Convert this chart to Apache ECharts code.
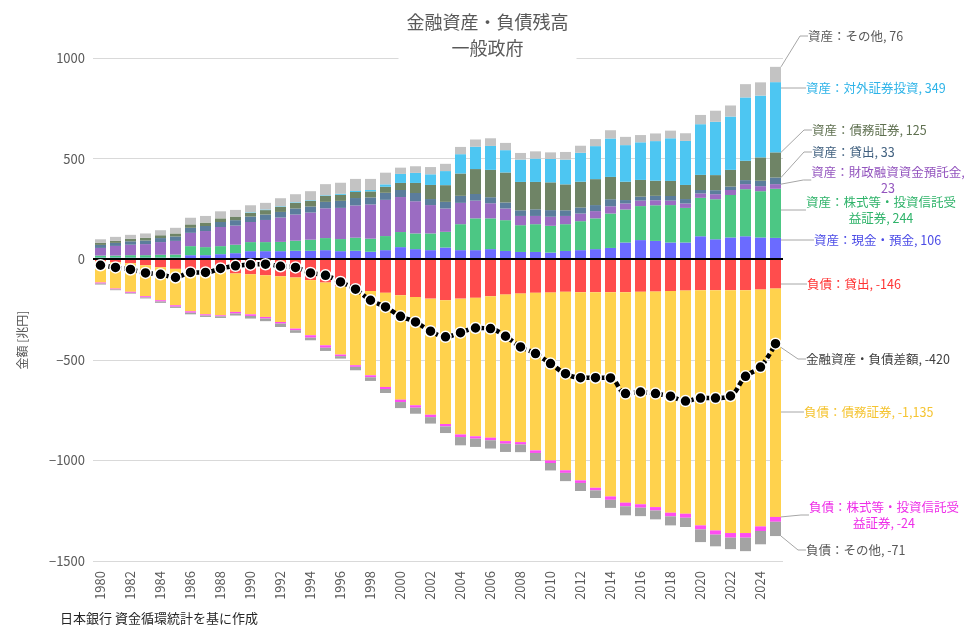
<!DOCTYPE html>
<html lang="ja">
<head>
<meta charset="utf-8">
<title>金融資産・負債残高 一般政府</title>
<script src="https://cdn.jsdelivr.net/npm/echarts@6/dist/echarts.min.js"></script>
<style>
  html, body { margin: 0; padding: 0; background: #fff; }
  #main { width: 975px; height: 637px; }
</style>
</head>
<body>
<div id="main"></div>
<script>
  const years = ['1980', '1981', '1982', '1983', '1984', '1985', '1986', '1987', '1988', '1989',
    '1990', '1991', '1992', '1993', '1994', '1995', '1996', '1997', '1998', '1999',
    '2000', '2001', '2002', '2003', '2004', '2005', '2006', '2007', '2008', '2009',
    '2010', '2011', '2012', '2013', '2014', '2015', '2016', '2017', '2018', '2019',
    '2020', '2021', '2022', '2023', '2024', '2025']

  // 資産 (兆円)
  const assetCash = [8, 8, 8, 8, 8, 8, 20, 20, 25, 30, 40, 40, 40, 42, 42, 45, 40, 42, 37, 45,
    60, 50, 45, 58, 45, 45, 50, 41, 36, 36, 33, 41, 45, 50, 56, 83, 95, 91, 83, 83,
    114, 99, 108, 114, 108, 106]
  const assetEquity = [10, 10, 12, 12, 14, 15, 45, 40, 40, 42, 45, 45, 46, 50, 55, 60, 60, 65, 65, 70,
    75, 78, 83, 78, 129, 158, 153, 153, 133, 138, 133, 133, 144, 153, 171, 164, 169, 177, 186, 172,
    191, 199, 211, 234, 230, 244]
  const assetFilp = [38, 48, 52, 55, 63, 68, 66, 80, 95, 95, 100, 110, 121, 130, 135, 148, 155, 160, 170, 180,
    174, 160, 141, 116, 106, 88, 75, 58, 46, 41, 45, 41, 38, 36, 36, 30, 27, 25, 22, 22,
    22, 25, 25, 25, 25, 23]
  const assetLoans = [15, 15, 17, 18, 20, 22, 25, 25, 25, 27, 27, 27, 28, 30, 30, 32, 35, 37, 35, 35,
    35, 41, 30, 33, 35, 33, 30, 30, 28, 33, 33, 28, 30, 30, 35, 17, 20, 22, 23, 22,
    17, 20, 17, 20, 27, 33]
  const assetDebt = [10, 10, 12, 13, 14, 15, 17, 17, 18, 18, 18, 22, 25, 28, 28, 30, 30, 30, 30, 30,
    35, 50, 70, 83, 111, 124, 136, 149, 141, 136, 138, 129, 128, 129, 111, 91, 83, 75, 75, 70,
    75, 75, 83, 96, 116, 125]
  const assetForeign = [0, 0, 0, 0, 0, 0, 0, 0, 0, 0, 3, 3, 3, 3, 3, 3, 5, 5, 7, 12,
    45, 50, 53, 70, 96, 111, 119, 111, 111, 116, 116, 123, 144, 164, 191, 182, 187, 197, 212, 219,
    252, 265, 265, 315, 307, 349]
  const assetOther = [18, 20, 20, 22, 25, 28, 33, 33, 35, 33, 35, 33, 40, 40, 45, 55, 55, 60, 55, 58,
    31, 33, 36, 36, 36, 36, 38, 36, 33, 36, 33, 38, 35, 35, 41, 41, 36, 38, 38, 38,
    46, 55, 55, 66, 66, 76]

  // 負債 (兆円)
  const liabLoans = [-10, -15, -20, -30, -40, -48, -55, -60, -60, -71, -75, -80, -85, -91, -104, -116, -135, -150, -158, -167,
    -179, -188, -196, -204, -196, -192, -184, -176, -171, -167, -166, -162, -164, -164, -164, -164, -162, -161, -158, -156,
    -154, -154, -154, -154, -151, -146]
  const liabDebt = [-106, -131, -142, -154, -164, -181, -204, -214, -219, -191, -199, -207, -227, -254, -274, -312, -339, -377, -419, -468,
    -519, -538, -577, -615, -675, -688, -703, -728, -738, -783, -834, -887, -935, -972, -1015, -1046, -1056, -1071, -1102, -1109,
    -1169, -1194, -1207, -1207, -1177, -1135]
  const liabEquity = [-5, -4, -5, -6, -6, -7, -7, -6, -5, -8, -8, -8, -8, -8, -12, -12, -8, -8, -10, -10,
    -12, -12, -12, -12, -13, -12, -13, -13, -12, -13, -13, -13, -13, -13, -17, -18, -17, -17, -18, -20,
    -20, -21, -23, -23, -23, -24]
  const liabOther = [-5, -4, -4, -5, -7, -6, -8, -7, -8, -10, -13, -13, -17, -13, -13, -16, -12, -17, -18, -20,
    -30, -30, -32, -33, -41, -41, -41, -41, -38, -40, -37, -41, -40, -38, -40, -45, -42, -44, -45, -46,
    -63, -58, -57, -67, -66, -71]

  // 金融資産・負債差額
  const netBalance = [-30, -41, -51, -68, -75, -91, -66, -66, -46, -33, -27, -25, -35, -41, -68, -80, -113, -149, -204, -237,
    -284, -312, -358, -386, -365, -342, -345, -383, -436, -469, -519, -569, -589, -589, -590, -668, -660, -668, -681, -705,
    -690, -690, -680, -582, -536, -420]

  const yTicks = { min: -1500, max: 1000, step: 500 }

  const FONT = '"Noto Sans CJK JP", "Noto Sans", sans-serif'
  const fmt = (v) => v.toLocaleString('en-US')

  // only the last point carries a label
  function endItem(data) {
    return data.map((v, i) => (i === data.length - 1 ? { value: v, label: { show: true } } : v))
  }

  function endLabel(lab) {
    return {
      label: {
        show: false,
        color: lab.color,
        fontSize: 12.5,
        lineHeight: 16,
        fontFamily: FONT,
        formatter: (p) => lab.text + (lab.sep || ', ') + fmt(p.value),
      },
      labelLine: { show: true, length2: 8, lineStyle: { color: '#a6a6a6', width: 1 } },
      labelLayout: () => ({ x: lab.x, y: lab.y, align: lab.align || 'left', verticalAlign: 'middle' }),
    }
  }

  function makeBar(name, data, color, lab) {
    return Object.assign({
      name,
      type: 'bar',
      stack: 'total',
      barWidth: 11,
      itemStyle: { color },
      emphasis: { disabled: true },
      data: endItem(data),
    }, endLabel(lab))
  }

  const series = [
    makeBar('資産：現金・預金', assetCash, '#6b6bff',
      { text: '資産：現金・預金', color: '#4b4be6', x: 814, y: 240 }),
    makeBar('資産：株式等・投資信託受益証券', assetEquity, '#4cc784',
      { text: '資産：株式等・投資信託受\n益証券', color: '#2fb36a', x: 881, y: 210, align: 'center' }),
    makeBar('資産：財政融資資金預託金', assetFilp, '#9b6cc2',
      { text: '資産：財政融資資金預託金', sep: ',\n', color: '#9354be', x: 888, y: 180, align: 'center' }),
    makeBar('資産：貸出', assetLoans, '#5b7d9c',
      { text: '資産：貸出', color: '#40607f', x: 812, y: 152 }),
    makeBar('資産：債務証券', assetDebt, '#6f8466',
      { text: '資産：債務証券', color: '#5f7050', x: 812, y: 130 }),
    makeBar('資産：対外証券投資', assetForeign, '#4dc6f2',
      { text: '資産：対外証券投資', color: '#2db3e8', x: 806, y: 88 }),
    makeBar('資産：その他', assetOther, '#c3c3c3',
      { text: '資産：その他', color: '#595959', x: 808, y: 36 }),
    makeBar('負債：貸出', liabLoans, '#ff4d4d',
      { text: '負債：貸出', color: '#ff3333', x: 807, y: 284 }),
    makeBar('負債：債務証券', liabDebt, '#ffd24d',
      { text: '負債：債務証券', color: '#f5c431', x: 804, y: 412 }),
    makeBar('負債：株式等・投資信託受益証券', liabEquity, '#ff4df2',
      { text: '負債：株式等・投資信託受\n益証券', color: '#ee2ee8', x: 884, y: 515, align: 'center' }),
    makeBar('負債：その他', liabOther, '#a3a3a3',
      { text: '負債：その他', color: '#595959', x: 806, y: 550 }),
    Object.assign({
      name: '金融資産・負債差額',
      type: 'line',
      z: 10,
      smooth: 0.35,
      symbol: 'circle',
      symbolSize: 11,
      showAllSymbol: true,
      lineStyle: { color: '#000', width: 4.5, type: [5, 3] },
      itemStyle: { color: '#000', borderColor: '#fff', borderWidth: 1.5 },
      emphasis: { disabled: true },
      data: endItem(netBalance),
    }, endLabel({ text: '金融資産・負債差額', color: '#404040', x: 806, y: 359 })),
  ]

  // zero line
  series[0].markLine = {
    silent: true,
    symbol: 'none',
    label: { show: false },
    lineStyle: { color: '#000', width: 2, type: 'solid' },
    data: [{ yAxis: 0 }],
  }

  const chart = echarts.init(document.getElementById('main'))
  chart.setOption({
    animation: false,
    textStyle: { fontFamily: FONT },
    title: {
      text: '金融資産・負債残高\n一般政府',
      left: 'center',
      top: 3,
      padding: [6, 8, 4, 8],
      backgroundColor: '#fff',
      textStyle: { fontSize: 18, fontWeight: 'normal', color: '#595959', lineHeight: 26, fontFamily: FONT },
    },
    grid: { left: 93, right: 192, top: 58, bottom: 76 },
    xAxis: {
      type: 'category',
      data: years,
      axisLine: { show: false },
      axisTick: { show: false },
      axisLabel: { rotate: 90, interval: 1, fontSize: 13, color: '#595959', margin: 10 },
    },
    yAxis: {
      type: 'value',
      min: yTicks.min,
      max: yTicks.max,
      interval: yTicks.step,
      axisLine: { show: false },
      axisTick: { show: false },
      splitLine: { lineStyle: { color: '#d9d9d9', width: 1 } },
      axisLabel: {
        fontSize: 13,
        color: '#595959',
        margin: 8,
        formatter: (v) => (v < 0 ? '\u2212' + Math.abs(v) : String(v)),
      },
    },
    graphic: [
      {
        type: 'text',
        x: 22,
        y: 340,
        rotation: Math.PI / 2,
        style: { text: '金額 [兆円]', fontSize: 12, fill: '#595959', align: 'center', verticalAlign: 'middle', fontFamily: FONT },
      },
      {
        type: 'text',
        left: 60,
        top: 612,
        style: { text: '日本銀行 資金循環統計を基に作成', fontSize: 13, fill: '#262626', fontFamily: FONT },
      },
    ],
    series,
  })
</script>
</body>
</html>
